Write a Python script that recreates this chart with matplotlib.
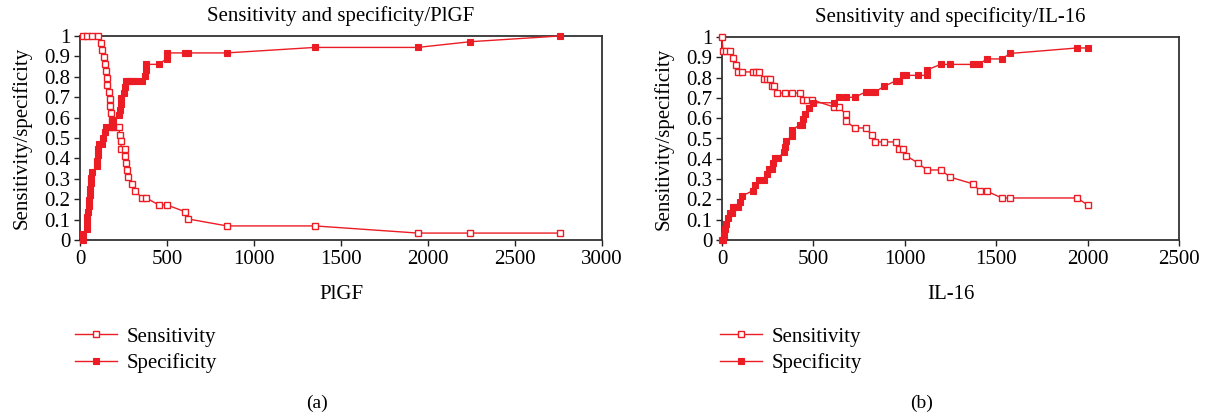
import matplotlib
matplotlib.use("Agg")
import matplotlib.pyplot as plt

# ---------------- data ----------------
# Panel (a): PlGF
plgf_sens_x = [15, 42, 69, 106, 119, 127, 136, 142, 150, 154, 157, 169, 171, 175, 180, 186, 192, 223,
               228, 234, 238, 257, 259, 263, 272, 276, 301, 315, 357, 378, 453, 499, 606, 622, 845,
               1350, 1941, 2243, 2757]
plgf_sens = [1, 1, 1, 1, 0.966, 0.931, 0.897, 0.862, 0.828, 0.793, 0.759, 0.724, 0.690, 0.655, 0.621,
             0.586, 0.552, 0.552, 0.517, 0.483, 0.448, 0.448, 0.414, 0.379, 0.345, 0.310, 0.276, 0.241,
             0.207, 0.207, 0.172, 0.172, 0.138, 0.103, 0.069, 0.069, 0.034, 0.034, 0.034]
plgf_spec_x = [15, 15, 38, 40, 42, 46, 50, 54, 56, 58, 61, 64, 67, 98, 100, 102, 104, 111, 125, 132,
               144, 152, 170, 188, 192, 223, 232, 234, 238, 253, 257, 263, 274, 290, 306, 322, 357,
               374, 378, 380, 453, 499, 501, 606, 622, 842, 1350, 1941, 2243, 2757]
plgf_spec = [0, 0.028, 0.056, 0.083, 0.111, 0.139, 0.167, 0.194, 0.222, 0.250, 0.278, 0.306, 0.333,
             0.361, 0.389, 0.417, 0.444, 0.472, 0.472, 0.500, 0.528, 0.556, 0.556, 0.556, 0.583, 0.611,
             0.639, 0.667, 0.694, 0.722, 0.750, 0.778, 0.778, 0.778, 0.778, 0.778, 0.778, 0.806, 0.833,
             0.861, 0.861, 0.889, 0.917, 0.917, 0.917, 0.917, 0.944, 0.944, 0.972, 1.0]

# Panel (b): IL-16
il16_sens_x = [0, 5, 22, 42, 58, 76, 87, 107, 169, 186, 202, 229, 244, 262, 273, 284, 299, 346, 382,
               424, 443, 464, 495, 612, 639, 676, 679, 725, 788, 818, 838, 887, 951, 969, 989, 1009,
               1073, 1120, 1198, 1247, 1375, 1411, 1448, 1531, 1577, 1943, 2001]
il16_sens = [1, 0.931, 0.931, 0.931, 0.897, 0.862, 0.828, 0.828, 0.828, 0.828, 0.828, 0.793, 0.793,
             0.793, 0.759, 0.759, 0.724, 0.724, 0.724, 0.724, 0.690, 0.690, 0.690, 0.655, 0.655, 0.621,
             0.586, 0.552, 0.552, 0.517, 0.483, 0.483, 0.483, 0.448, 0.448, 0.414, 0.379, 0.345, 0.345,
             0.310, 0.276, 0.241, 0.241, 0.207, 0.207, 0.207, 0.172]
il16_spec_x = [0, 5, 9, 16, 22, 35, 42, 55, 58, 73, 86, 97, 107, 169, 182, 202, 228, 246, 259, 275,
               277, 288, 306, 339, 346, 351, 381, 384, 424, 439, 441, 452, 474, 497, 612, 639, 679,
               725, 788, 818, 838, 887, 951, 969, 989, 1009, 1073, 1122, 1122, 1196, 1245, 1373, 1407,
               1448, 1531, 1577, 1943, 2001]
il16_spec = [0, 0, 0.027, 0.054, 0.081, 0.108, 0.135, 0.135, 0.162, 0.162, 0.162, 0.189, 0.216, 0.243,
             0.270, 0.297, 0.297, 0.324, 0.351, 0.351, 0.378, 0.405, 0.405, 0.432, 0.459, 0.486, 0.514,
             0.541, 0.568, 0.568, 0.595, 0.622, 0.649, 0.676, 0.676, 0.703, 0.703, 0.703, 0.730, 0.730,
             0.730, 0.757, 0.784, 0.784, 0.811, 0.811, 0.811, 0.811, 0.838, 0.865, 0.865, 0.865, 0.865,
             0.892, 0.892, 0.919, 0.946, 0.946]

titles = ["Sensitivity and specificity/PlGF", "Sensitivity and specificity/IL-16"]
xlabels = ["PlGF", "IL-16"]
panel_tags = ["(a)", "(b)"]
xlims = [3000, 2500]
ylabel = "Sensitivity/specificity"
series_names = ["Sensitivity", "Specificity"]
yticks = [0, 0.1, 0.2, 0.3, 0.4, 0.5, 0.6, 0.7, 0.8, 0.9, 1]
ytick_labels = ["0", "0.1", "0.2", "0.3", "0.4", "0.5", "0.6", "0.7", "0.8", "0.9", "1"]

# ---------------- style ----------------
plt.rcParams["font.family"] = ["Liberation Serif", "DejaVu Serif"]
RED = "#ec1c24"
FS = 15

W, H = 1209, 417
fig = plt.figure(figsize=(W / 100, H / 100), dpi=100)

axes_px = [(80, 36, 602, 240), (722, 37, 1179, 240)]
legend_px = [(75, 327), (720, 327)]
tag_px = [(317, 403), (922, 403)]

data = [
    (plgf_sens_x, plgf_sens, plgf_spec_x, plgf_spec),
    (il16_sens_x, il16_sens, il16_spec_x, il16_spec),
]

for i in range(2):
    l, t, r, b = axes_px[i]
    ax = fig.add_axes([l / W, 1 - b / H, (r - l) / W, (b - t) / H])
    sx, sy, px, py = data[i]
    h1, = ax.plot(sx, sy, color=RED, lw=1.0, marker="s", markersize=4.2,
                  markerfacecolor="white", markeredgecolor=RED, markeredgewidth=1.0,
                  clip_on=False, zorder=3, label=series_names[0])
    h2, = ax.plot(px, py, color=RED, lw=1.0, marker="s", markersize=4.6,
                  markerfacecolor=RED, markeredgecolor=RED, markeredgewidth=0.8,
                  clip_on=False, zorder=3, label=series_names[1])
    ax.set_xlim(0, xlims[i])
    ax.set_ylim(0, 1)
    ax.set_xticks(list(range(0, xlims[i] + 1, 500)))
    ax.set_yticks(yticks)
    ax.set_yticklabels(ytick_labels)
    ax.tick_params(direction="out", length=4, width=1, labelsize=FS, colors="#222222",
                   labelcolor="black", pad=3)
    for sp in ax.spines.values():
        sp.set_color("#333333")
        sp.set_linewidth(1.3)
    ax.set_title(titles[i], fontsize=FS, pad=11)
    ax.set_xlabel(xlabels[i], fontsize=FS, labelpad=12)
    ax.set_ylabel(ylabel, fontsize=FS, labelpad=9)

    lx, ly = legend_px[i]
    fig.legend(handles=[h1, h2], loc="upper left",
               bbox_to_anchor=(lx / W, 1 - ly / H), frameon=False, fontsize=FS,
               handlelength=2.0, handletextpad=0.5, labelspacing=0.33,
               borderpad=0, borderaxespad=0)
    tx, ty = tag_px[i]
    fig.text(tx / W, 1 - ty / H, panel_tags[i], ha="center", va="center", fontsize=FS - 1)

fig.savefig("out.png", dpi=100)
